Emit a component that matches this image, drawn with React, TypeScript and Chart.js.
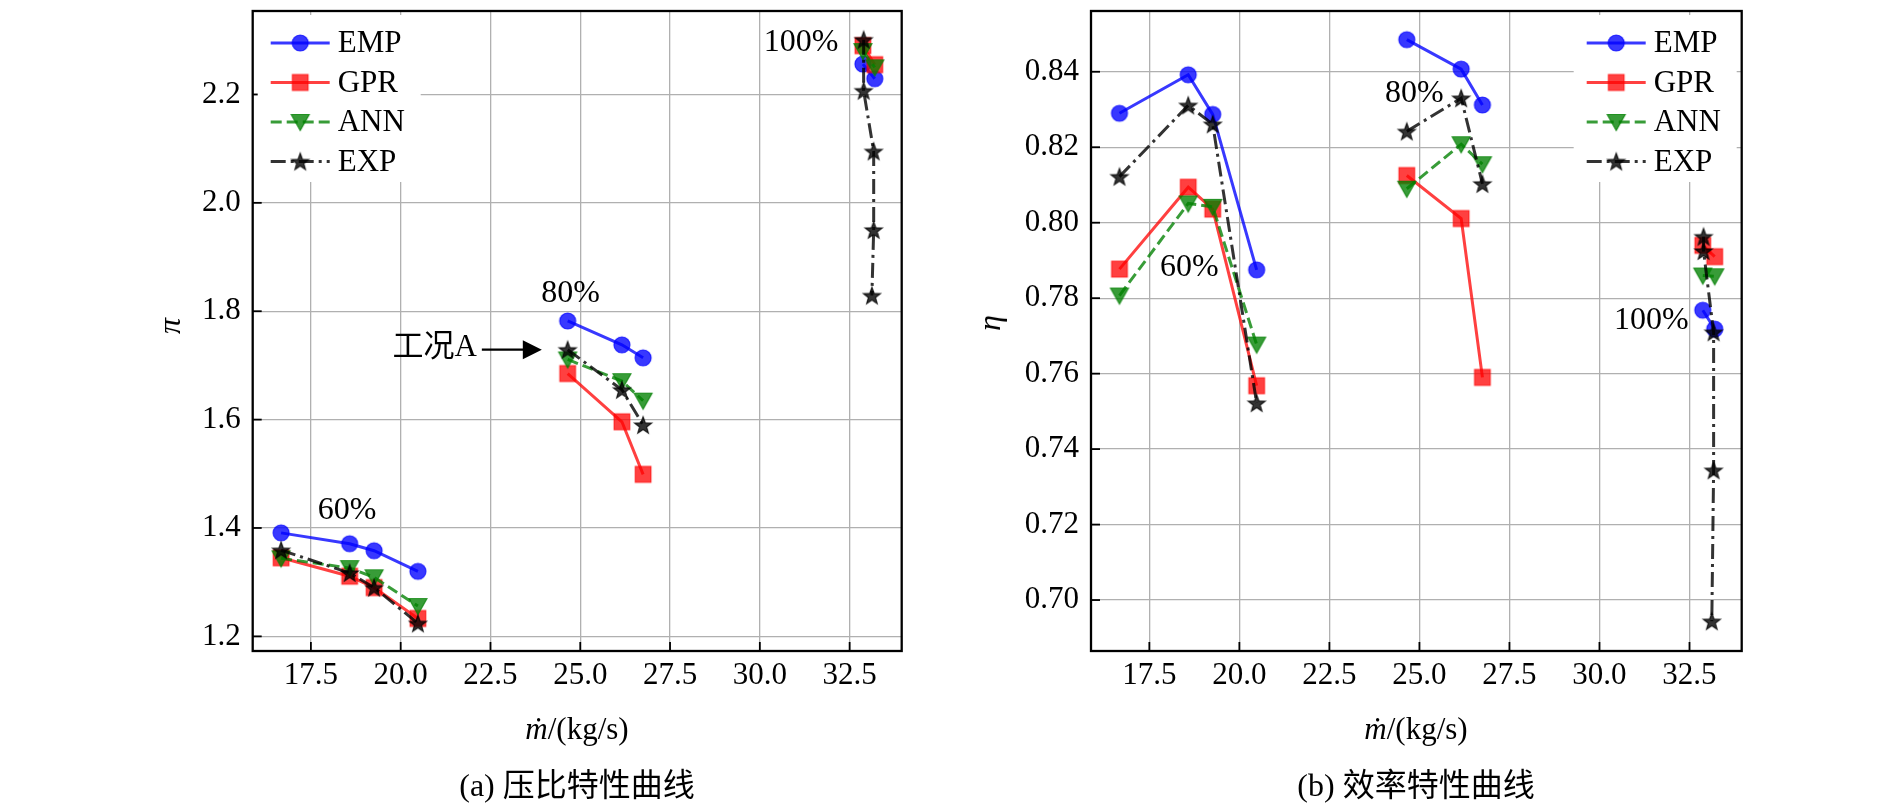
import React, { useEffect, useRef } from 'react';
import { Chart, registerables } from 'chart.js';

Chart.register(...registerables);

// ---------- tick labels ----------
const X_TICKS = [17.5, 20.0, 22.5, 25.0, 27.5, 30.0, 32.5];
const PI_TICKS = [1.2, 1.4, 1.6, 1.8, 2.0, 2.2];
const ETA_TICKS = [0.7, 0.72, 0.74, 0.76, 0.78, 0.8, 0.82, 0.84];

// ---------- mass flow (x) per speed line ----------
const MDOT_60 = [16.67, 18.58, 19.26, 20.48];
const MDOT_80 = [24.65, 26.16, 26.75];
const MDOT_100_MODEL = [32.87, 33.2];
const MDOT_100_EXP = [32.89, 32.89, 33.17, 33.17, 33.12];

// ---------- pressure ratio pi ----------
const PI_EMP_60 = [1.391, 1.371, 1.358, 1.32];
const PI_GPR_60 = [1.345, 1.311, 1.29, 1.233];
const PI_ANN_60 = [1.344, 1.326, 1.309, 1.256];
const PI_EXP_60 = [1.359, 1.317, 1.29, 1.224];
const PI_EMP_80 = [1.782, 1.738, 1.714];
const PI_GPR_80 = [1.685, 1.596, 1.499];
const PI_ANN_80 = [1.711, 1.671, 1.635];
const PI_EXP_80 = [1.729, 1.655, 1.59];
const PI_EMP_100 = [2.256, 2.229];
const PI_GPR_100 = [2.29, 2.255];
const PI_ANN_100 = [2.28, 2.25];
const PI_EXP_100 = [2.301, 2.207, 2.095, 1.95, 1.829];

// ---------- efficiency eta ----------
const ETA_EMP_60 = [0.829, 0.8392, 0.8287, 0.7875];
const ETA_GPR_60 = [0.7877, 0.8094, 0.8036, 0.7568];
const ETA_ANN_60 = [0.7807, 0.8051, 0.8042, 0.7677];
const ETA_EXP_60 = [0.8122, 0.8311, 0.8261, 0.7522];
const ETA_EMP_80 = [0.8485, 0.8407, 0.8312];
const ETA_GPR_80 = [0.8125, 0.8011, 0.759];
const ETA_ANN_80 = [0.809, 0.8208, 0.8155];
const ETA_EXP_80 = [0.8242, 0.833, 0.8103];
const ETA_EMP_100 = [0.7768, 0.7718];
const ETA_GPR_100 = [0.794, 0.791];
const ETA_ANN_100 = [0.786, 0.7858];
const ETA_EXP_100 = [0.7963, 0.7925, 0.771, 0.7344, 0.6944];

// ---------- annotations (data units) ----------
const PI_LABELS = [
  { text: '100%', x: 31.15, y: 2.295 },
  { text: '80%', x: 24.73, y: 1.833 },
  { text: '60%', x: 18.51, y: 1.433 },
];
const PI_ARROW = { text: '工况A', textX: 22.12, textY: 1.733, from: 22.26, to: 23.93, y: 1.729 };
const ETA_LABELS = [
  { text: '60%', x: 18.61, y: 0.788 },
  { text: '80%', x: 24.86, y: 0.8342 },
  { text: '100%', x: 31.44, y: 0.774 },
];

// ---------- styles ----------
const SERIES = [
  { name: 'EMP', color: 'rgba(0,0,255,0.78)', marker: 'circle', dash: [] as number[] },
  { name: 'GPR', color: 'rgba(255,0,0,0.75)', marker: 'square', dash: [] as number[] },
  { name: 'ANN', color: 'rgba(0,128,0,0.78)', marker: 'tri', dash: [11, 5] },
  { name: 'EXP', color: 'rgba(0,0,0,0.8)', marker: 'star', dash: [15, 5, 3, 5] },
];

const PI_SERIES = [
  [PI_EMP_60, PI_EMP_80, PI_EMP_100],
  [PI_GPR_60, PI_GPR_80, PI_GPR_100],
  [PI_ANN_60, PI_ANN_80, PI_ANN_100],
  [PI_EXP_60, PI_EXP_80, PI_EXP_100],
];
const ETA_SERIES = [
  [ETA_EMP_60, ETA_EMP_80, ETA_EMP_100],
  [ETA_GPR_60, ETA_GPR_80, ETA_GPR_100],
  [ETA_ANN_60, ETA_ANN_80, ETA_ANN_100],
  [ETA_EXP_60, ETA_EXP_80, ETA_EXP_100],
];
const X_MODEL = [MDOT_60, MDOT_80, MDOT_100_MODEL];
const X_EXP = [MDOT_60, MDOT_80, MDOT_100_EXP];

const SERIF = '"Liberation Serif", "Times New Roman", "Noto Sans CJK SC", serif';
const MS = 26;

function makeMarker(kind: string, color: string): HTMLCanvasElement {
  const c = document.createElement('canvas');
  c.width = MS;
  c.height = MS;
  const g = c.getContext('2d')!;
  const m = MS / 2;
  g.fillStyle = color;
  g.strokeStyle = color;
  g.lineWidth = 1.2;
  g.lineJoin = 'miter';
  g.beginPath();
  if (kind === 'circle') {
    g.arc(m, m, 8, 0, Math.PI * 2);
  } else if (kind === 'square') {
    g.rect(m - 7.8, m - 7.8, 15.6, 15.6);
  } else if (kind === 'tri') {
    g.moveTo(m - 9, m - 7.5);
    g.lineTo(m + 9, m - 7.5);
    g.lineTo(m, m + 8.5);
    g.closePath();
  } else {
    const R = 9, r = 3.7;
    for (let i = 0; i < 10; i++) {
      const ang = -Math.PI / 2 + (i * Math.PI) / 5;
      const rad = i % 2 === 0 ? R : r;
      const px = m + rad * Math.cos(ang);
      const py = m + 0.8 + rad * Math.sin(ang);
      if (i === 0) g.moveTo(px, py);
      else g.lineTo(px, py);
    }
    g.closePath();
  }
  g.fill();
  g.stroke();
  return c;
}

function buildDatasets(values: number[][][], markers: HTMLCanvasElement[]) {
  const ds: any[] = [];
  SERIES.forEach((s, i) => {
    const xs = s.name === 'EXP' ? X_EXP : X_MODEL;
    values[i].forEach((ys, k) => {
      ds.push({
        label: s.name,
        data: xs[k].map((x, j) => ({ x, y: ys[j] })),
        showLine: true,
        borderColor: s.color,
        borderWidth: 3,
        borderDash: s.dash,
        backgroundColor: s.color,
        pointStyle: markers[i],
        pointRadius: 8,
        pointHoverRadius: 8,
        tension: 0,
        order: 4 - i,
        clip: false,
      });
    });
  });
  return ds;
}

function framePlugin() {
  return {
    id: 'frame',
    afterDatasetsDraw(chart: any) {
      const { ctx, chartArea: ca, scales } = chart;
      ctx.save();
      ctx.strokeStyle = '#000';
      ctx.lineWidth = 1.8;
      ctx.setLineDash([]);
      scales.x.ticks.forEach((t: any) => {
        const px = scales.x.getPixelForValue(t.value);
        ctx.beginPath();
        ctx.moveTo(px, ca.bottom);
        ctx.lineTo(px, ca.bottom - 9);
        ctx.stroke();
      });
      scales.y.ticks.forEach((t: any) => {
        const py = scales.y.getPixelForValue(t.value);
        ctx.beginPath();
        ctx.moveTo(ca.left, py);
        ctx.lineTo(ca.left + 9, py);
        ctx.stroke();
      });
      ctx.lineWidth = 2.3;
      ctx.strokeRect(ca.left, ca.top, ca.right - ca.left, ca.bottom - ca.top);
      ctx.restore();
    },
  };
}

function legendPlugin(side: 'left' | 'right', markers: HTMLCanvasElement[]) {
  return {
    id: 'customLegend',
    afterDraw(chart: any) {
      const { ctx, chartArea: ca } = chart;
      const boxW = 163;
      const boxH = 167;
      const bx = side === 'left' ? ca.left + 5 : ca.right - 5 - boxW;
      const by = ca.top + 4;
      ctx.save();
      ctx.fillStyle = '#fff';
      ctx.fillRect(bx, by, boxW, boxH);
      SERIES.forEach((s, i) => {
        const y = ca.top + 32 + i * 39.5;
        ctx.strokeStyle = s.color;
        ctx.lineWidth = 3;
        ctx.setLineDash(s.dash);
        ctx.beginPath();
        ctx.moveTo(bx + 13, y);
        ctx.lineTo(bx + 72, y);
        ctx.stroke();
        ctx.setLineDash([]);
        ctx.drawImage(markers[i], bx + 42.5 - MS / 2, y - MS / 2);
        ctx.fillStyle = '#000';
        ctx.font = `31px ${SERIF}`;
        ctx.textBaseline = 'middle';
        ctx.textAlign = 'left';
        ctx.fillText(s.name, bx + 80, y + 1);
      });
      ctx.restore();
    },
  };
}

function labelPlugin(labels: { text: string; x: number; y: number }[], arrow?: typeof PI_ARROW) {
  return {
    id: 'speedLabels',
    afterDatasetsDraw(chart: any) {
      const { ctx, scales } = chart;
      ctx.save();
      ctx.fillStyle = '#000';
      ctx.font = `32px ${SERIF}`;
      ctx.textBaseline = 'middle';
      ctx.textAlign = 'center';
      labels.forEach((l) => {
        ctx.fillText(l.text, scales.x.getPixelForValue(l.x), scales.y.getPixelForValue(l.y));
      });
      if (arrow) {
        ctx.textAlign = 'right';
        ctx.font = `31px ${SERIF}`;
        ctx.fillText(arrow.text, scales.x.getPixelForValue(arrow.textX), scales.y.getPixelForValue(arrow.textY));
        const x1 = scales.x.getPixelForValue(arrow.from);
        const x2 = scales.x.getPixelForValue(arrow.to);
        const ay = scales.y.getPixelForValue(arrow.y);
        ctx.strokeStyle = '#000';
        ctx.lineWidth = 2.2;
        ctx.beginPath();
        ctx.moveTo(x1, ay);
        ctx.lineTo(x2 - 18, ay);
        ctx.stroke();
        ctx.beginPath();
        ctx.moveTo(x2, ay);
        ctx.lineTo(x2 - 19, ay - 9.5);
        ctx.lineTo(x2 - 19, ay + 9.5);
        ctx.closePath();
        ctx.fill();
      }
      ctx.restore();
    },
  };
}

function makeConfig(opts: {
  values: number[][][];
  markers: HTMLCanvasElement[];
  yMin: number;
  yMax: number;
  yTicks: number[];
  yDigits: number;
  yWidth: number;
  padRight: number;
  legendSide: 'left' | 'right';
  labels: { text: string; x: number; y: number }[];
  arrow?: typeof PI_ARROW;
}): any {
  const tickFont = { family: SERIF, size: 31 };
  return {
    type: 'scatter',
    data: { datasets: buildDatasets(opts.values, opts.markers) },
    options: {
      animation: false,
      responsive: false,
      events: [],
      layout: { padding: { left: 0, right: opts.padRight, top: 1.5, bottom: 0 } },
      plugins: { legend: { display: false }, tooltip: { enabled: false } },
      scales: {
        x: {
          type: 'linear',
          min: 15.88,
          max: 33.95,
          afterBuildTicks: (s: any) => {
            s.ticks = X_TICKS.map((v) => ({ value: v }));
          },
          afterFit: (s: any) => {
            s.height = 153;
            s.paddingLeft = 0;
            s.paddingRight = 0;
          },
          ticks: {
            callback: (v: any) => Number(v).toFixed(1),
            font: tickFont,
            color: '#000',
            padding: 6,
            maxRotation: 0,
            autoSkip: false,
          },
          grid: { color: '#b0b0b0', lineWidth: 1.3, drawTicks: false },
          border: { display: false },
        },
        y: {
          type: 'linear',
          min: opts.yMin,
          max: opts.yMax,
          afterBuildTicks: (s: any) => {
            s.ticks = opts.yTicks.map((v) => ({ value: v }));
          },
          afterFit: (s: any) => {
            s.width = opts.yWidth;
            s.paddingTop = 0;
            s.paddingBottom = 0;
          },
          ticks: {
            callback: (v: any) => Number(v).toFixed(opts.yDigits),
            font: tickFont,
            color: '#000',
            padding: 12,
            autoSkip: false,
          },
          grid: { color: '#b0b0b0', lineWidth: 1.3, drawTicks: false },
          border: { display: false },
        },
      },
    },
    plugins: [framePlugin(), labelPlugin(opts.labels, opts.arrow), legendPlugin(opts.legendSide, opts.markers)],
  };
}

const abs = (x: number, y: number, extra: React.CSSProperties = {}): React.CSSProperties => ({
  position: 'absolute',
  left: x,
  top: y,
  transform: 'translate(-50%, -50%)',
  whiteSpace: 'nowrap',
  fontFamily: SERIF,
  color: '#000',
  lineHeight: 1,
  ...extra,
});

export default function App() {
  const refA = useRef<HTMLCanvasElement>(null);
  const refB = useRef<HTMLCanvasElement>(null);

  useEffect(() => {
    const markers = SERIES.map((s) => makeMarker(s.marker, s.color));
    const a = new Chart(
      refA.current!,
      makeConfig({
        values: PI_SERIES,
        markers,
        yMin: 1.173,
        yMax: 2.354,
        yTicks: PI_TICKS,
        yDigits: 1,
        yWidth: 252.7,
        padRight: 43.3,
        legendSide: 'left',
        labels: PI_LABELS,
        arrow: PI_ARROW,
      })
    );
    const b = new Chart(
      refB.current!,
      makeConfig({
        values: ETA_SERIES,
        markers,
        yMin: 0.6865,
        yMax: 0.8561,
        yTicks: ETA_TICKS,
        yDigits: 2,
        yWidth: 146,
        padRight: 148.3,
        legendSide: 'right',
        labels: ETA_LABELS,
      })
    );
    return () => {
      a.destroy();
      b.destroy();
    };
  }, []);

  return (
    <div style={{ position: 'absolute', left: 0, top: 0, width: 1890, height: 804, background: '#fff', overflow: 'hidden' }}>
      <canvas ref={refA} width={945} height={804} style={{ position: 'absolute', left: 0, top: 0, width: 945, height: 804 }} />
      <canvas ref={refB} width={945} height={804} style={{ position: 'absolute', left: 945, top: 0, width: 945, height: 804 }} />
      <div style={abs(169, 326, { fontSize: 32, fontStyle: 'italic', transform: 'translate(-50%, -50%) rotate(-90deg)' })}>π</div>
      <div style={abs(989, 323, { fontSize: 32, fontStyle: 'italic', transform: 'translate(-50%, -50%) rotate(-90deg)' })}>η</div>
      <div style={abs(577, 728, { fontSize: 31 })}>
        <span style={{ fontStyle: 'italic' }}>ṁ</span>/(kg/s)
      </div>
      <div style={abs(1416, 728, { fontSize: 31 })}>
        <span style={{ fontStyle: 'italic' }}>ṁ</span>/(kg/s)
      </div>
      <div style={abs(577, 785, { fontSize: 32 })}>(a) 压比特性曲线</div>
      <div style={abs(1416, 785, { fontSize: 32 })}>(b) 效率特性曲线</div>
    </div>
  );
}
